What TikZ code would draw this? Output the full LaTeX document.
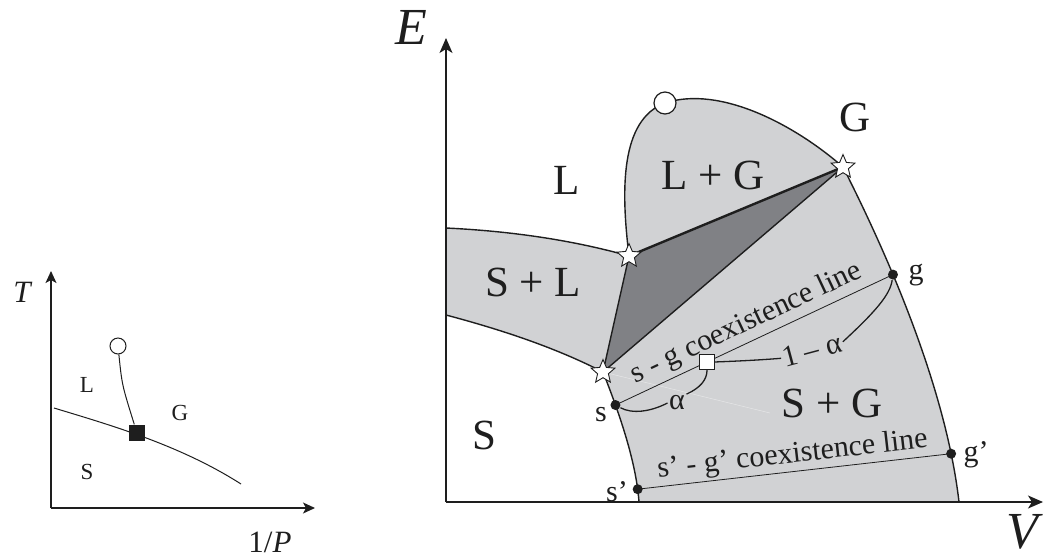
\documentclass[tikz,border=0pt]{standalone}
\usepackage{fontspec}
\setmainfont{Liberation Serif}
\usetikzlibrary{arrows.meta,positioning,calc,shapes.geometric}
\definecolor{ink}{RGB}{30,30,30}
\definecolor{phase}{RGB}{209,210,212}
\definecolor{tie}{RGB}{128,129,133}
\tikzset{
  every picture/.style={color=ink, line width=1.3pt},
  axis/.style={-{Stealth[length=15pt,width=13pt,inset=4pt]}, line width=1.4pt},
  smallaxis/.style={-{Stealth[length=12pt,width=11pt,inset=3pt]}, line width=1.2pt},
  bound/.style={line width=1.4pt},
  coex/.style={line width=0.8pt},
  brace/.style={line width=1.3pt},
  region/.style={font=\fontsize{43}{43}\selectfont, inner sep=0pt},
  smallreg/.style={font=\fontsize{23}{23}\selectfont, inner sep=0pt},
  axlbl/.style={font=\fontsize{52}{52}\selectfont\itshape, inner sep=0pt},
  smallax/.style={font=\fontsize{31}{31}\selectfont, inner sep=0pt},
  txt/.style={font=\fontsize{30}{30}\selectfont, inner sep=1pt},
  dot/.style={circle, fill=ink, inner sep=0pt, minimum size=10pt},
  crit/.style={circle, draw=ink, fill=white, inner sep=0pt, line width=1.2pt},
  triple/.style={star, star points=5, star point ratio=2.2, draw=ink, fill=white, line width=0.9pt, inner sep=0pt, minimum size=25pt},
  lever/.style={draw=ink, fill=white, inner sep=0pt, minimum size=15pt, line width=1.2pt},
}

\begin{document}
\begin{tikzpicture}[x=1pt, y=-1pt]
  \useasboundingbox (0,0) rectangle (1044,558);
  % small T - 1/P sketch
  \coordinate (o1) at (51,508);
  \coordinate (tmax) at (51,271);
  \coordinate (pmax) at (315,508);
  \draw[smallaxis] (o1) -- (tmax);
  \draw[smallaxis] (o1) -- (pmax);
  \node[smallax] (tlab) at (23,292) {\textit{T}};
  \node[smallax] (plab) at (270,542) {1/\textit{P}};
  \node[smallreg] (lsm) at (87,385) {L};
  \node[smallreg] (gsm) at (180,413) {G};
  \node[smallreg] (ssm) at (87,472) {S};
  \coordinate (sub0) at (54,408);
  \coordinate (sub1) at (241,484);
  \draw[line width=1pt] (sub0) .. controls (110,425) and (180,445) .. (sub1);
  \node[crit, minimum size=16pt, line width=1pt] (critsm) at (118,346) {};
  \node[fill=ink, inner sep=0pt, minimum size=16pt] (tpsm) at (137,433) {};
  \draw[line width=1pt] (critsm) .. controls (122,385) .. (tpsm);

  % E - V diagram
  \coordinate (o) at (446,502);
  \coordinate (emax) at (446,38);
  \coordinate (vmax) at (1043,502);
  \coordinate (tl) at (629,256);
  \coordinate (tg) at (843,167);
  \coordinate (ts) at (603,372);
  \coordinate (slhi) at (446,228);
  \coordinate (sllo) at (446,315);
  \coordinate (cp) at (665,103);
  \coordinate (gfoot) at (959,502);
  \coordinate (sfoot) at (639,502);
  \coordinate (fade) at (770,413);
  \fill[phase] (slhi) .. controls (530,232) and (590,245) .. (tl) -- (ts)
    .. controls (560,350) and (510,332) .. (sllo) -- cycle;
  \fill[phase] (tl) .. controls (621,190) and (620,120) .. (cp)
    .. controls (720,85) and (795,125) .. (tg) -- cycle;
  \fill[phase] (ts) -- (tg) .. controls (880,240) and (945,380) .. (gfoot)
    -- (sfoot) .. controls (636,460) and (618,410) .. (ts) -- cycle;
  \fill[tie] (tl) -- (tg) -- (ts) -- cycle;
  \draw[white, line width=0.5pt, opacity=0.45] (ts) -- (fade);
  % phase boundaries
  \draw[bound] (slhi) .. controls (530,232) and (590,245) .. (tl);
  \draw[bound] (sllo) .. controls (510,332) and (560,350) .. (ts);
  \draw[bound] (tl) .. controls (621,190) and (620,120) .. (cp)
    .. controls (720,85) and (795,125) .. (tg);
  \draw[bound] (tg) .. controls (880,240) and (945,380) .. (gfoot)
    node[dot, pos=0.38] (g) {} node[dot, pos=0.87] (gp) {};
  \draw[bound] (ts) .. controls (618,410) and (636,460) .. (sfoot)
    node[dot, pos=0.27] (s) {} node[dot, pos=0.9] (sp) {};
  \draw[bound] (tl) -- (ts);
  \draw[bound] (ts) -- (tg);
  \draw[line width=2.4pt] (tl) -- (tg);
  % coexistence lines and lever rule
  \draw[coex] (s.center) -- (g.center)
    node[midway, sloped, above=3pt, txt] (sgtext) {s - g coexistence line};
  \draw[coex] (sp.center) -- (gp.center)
    node[midway, sloped, above=1pt, txt] (sgptext) {s’ - g’ coexistence line};
  \node[lever] (lev) at ($(s)!0.33!(g)$) {};
  \node[txt] (alab) at (677,403) {α};
  \node[txt, rotate=15] (balab) at (812,350) {1 – α};
  \draw[brace] (s) .. controls (632,414) and (650,412) .. (alab.west);
  \draw[brace] (alab.north east) .. controls (700,388) and (707,380) .. (lev.south);
  \draw[brace] (lev.east) .. controls (740,361) and (760,360) .. (balab.west);
  \draw[brace] (balab.east) .. controls (875,312) and (890,295) .. (g);
  % labels
  \node[region] (lreg) at (567,180) {L};
  \node[region] (greg) at (855,117) {G};
  \node[region] (lgreg) at (713,175) {L + G};
  \node[region] (slreg) at (533,282) {S + L};
  \node[region] (sgreg) at (832,403) {S + G};
  \node[region] (sreg) at (484,435) {S};
  \node[txt] (slab) at (601,415) {s};
  \node[txt] (glab) at (916,275) {g};
  \node[txt] (splab) at (617,492) {s’};
  \node[txt] (gplab) at (976,455) {g’};
  \draw[axis] (o) -- (emax);
  \draw[axis] (o) -- (vmax);
  \node[axlbl] (elab) at (411,27) {E};
  \node[axlbl] (vlab) at (1022,532) {V};
  % special points on top
  \node[triple] (tlstar) at (tl) {};
  \node[triple] (tgstar) at (tg) {};
  \node[triple] (tsstar) at (ts) {};
  \node[crit, minimum size=22pt] (critbig) at (cp) {};
\end{tikzpicture}
\end{document}
